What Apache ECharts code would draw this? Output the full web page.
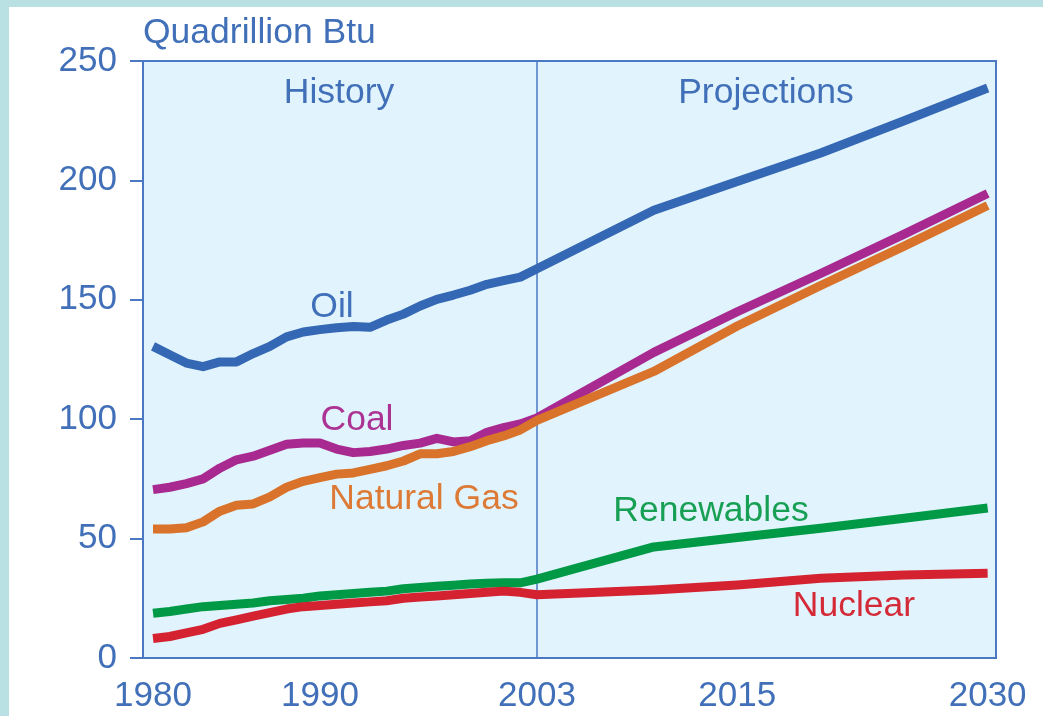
<!DOCTYPE html>
<html>
<head>
<meta charset="utf-8">
<script src="https://cdn.jsdelivr.net/npm/echarts@6/dist/echarts.min.js"></script>
<style>
  html, body { margin: 0; padding: 0; background: #ffffff; }
  #chart { width: 1043px; height: 716px; }
</style>
</head>
<body>
<div id="chart"></div>
<script>
// ---- Data ----
var years = [1980, 1981, 1982, 1983, 1984, 1985, 1986, 1987, 1988, 1989, 1990, 1991,
             1992, 1993, 1994, 1995, 1996, 1997, 1998, 1999, 2000, 2001, 2002, 2003,
             2010, 2015, 2020, 2025, 2030];
var oil = [130.5, 127, 123.5, 122, 124, 124, 127.5, 130.5, 134.5, 136.5, 137.5, 138.3,
           138.8, 138.5, 141.5, 144, 147.4, 150.2, 152, 154, 156.5, 158, 159.5, 163,
           187.5, 199.5, 211.5, 225, 238.7];
var coal = [70.5, 71.5, 73, 75, 79.5, 83, 84.5, 87, 89.5, 90, 90, 87.5,
            86, 86.5, 87.5, 89, 90, 92, 90.5, 91, 94.5, 96.5, 98, 100.5,
            128, 145, 161, 177.5, 194.5];
var gas = [54, 54, 54.5, 57, 61.5, 64, 64.5, 67.5, 71.5, 74, 75.5, 77,
           77.5, 79, 80.5, 82.5, 85.5, 85.5, 86.5, 88.5, 91, 93, 95.5, 99.5,
           120, 139, 156, 172.5, 189.5];
var renewables = [18.7, 19.5, 20.5, 21.5, 22, 22.5, 23, 24, 24.5, 25, 26, 26.5,
                  27, 27.5, 28, 29, 29.5, 30, 30.5, 31, 31.3, 31.5, 31.5, 33,
                  46.5, 50.5, 54.3, 58.5, 62.8];
var nuclear = [8.2, 9, 10.5, 12, 14.5, 16, 17.5, 19, 20.5, 21.5, 22, 22.5,
               23, 23.5, 24, 25, 25.5, 26, 26.5, 27, 27.5, 28, 27.5, 26.5,
               28.5, 30.6, 33.4, 34.8, 35.5];
var xTickLabels = [1980, 1990, 2003, 2015, 2030];
var yTicks = [0, 50, 100, 150, 200, 250];
var dividerYear = 2003;

function pairs(vals) {
  return years.map(function (y, i) { return [y, vals[i]]; });
}

var FONT = "'Liberation Sans', Arial, sans-serif";
var AXIS_BLUE = '#4a78c2';
var TEXT_BLUE = '#4170b8';

var chart = echarts.init(document.getElementById('chart'), null, { renderer: 'canvas' });

function lineSeries(name, vals, color, z) {
  return {
    name: name,
    type: 'line',
    data: pairs(vals),
    showSymbol: false,
    symbol: 'none',
    smooth: false,
    z: z,
    lineStyle: { color: color, width: 9, cap: 'butt', join: 'round' },
    emphasis: { disabled: true },
    silent: true
  };
}

function txt(text, x, y, color, align, size) {
  return {
    type: 'text',
    x: x, y: y,
    z: 100,
    silent: true,
    style: {
      text: text,
      fill: color,
      font: (size || 35.5) + 'px ' + FONT,
      align: align || 'center',
      verticalAlign: 'middle'
    }
  };
}

var option = {
  backgroundColor: '#ffffff',
  animation: false,
  grid: {
    left: 143, top: 61, right: 47, bottom: 58,
    show: true,
    backgroundColor: '#e1f3fd',
    borderColor: AXIS_BLUE,
    borderWidth: 2,
    containLabel: false,
    outerBoundsMode: 'none'
  },
  xAxis: {
    type: 'value',
    min: 1979.4,
    max: 2030.5,
    axisLine: { show: true, lineStyle: { color: AXIS_BLUE, width: 2 } },
    axisTick: { show: false },
    splitLine: { show: false },
    axisLabel: {
      customValues: xTickLabels,
      color: TEXT_BLUE,
      fontFamily: FONT,
      fontSize: 35,
      margin: 21,
      formatter: function (v) { return String(v); }
    }
  },
  yAxis: {
    type: 'value',
    min: 0,
    max: 250,
    interval: 50,
    axisLine: { show: true, lineStyle: { color: AXIS_BLUE, width: 2 } },
    axisTick: { show: true, inside: false, length: 13, lineStyle: { color: AXIS_BLUE, width: 2 } },
    splitLine: { show: false },
    axisLabel: {
      color: TEXT_BLUE,
      fontFamily: FONT,
      fontSize: 35,
      margin: 26
    }
  },
  series: [
    Object.assign(lineSeries('Renewables', renewables, '#009a46', 2), {
      markLine: {
        silent: true,
        symbol: ['none', 'none'],
        label: { show: false },
        lineStyle: { color: AXIS_BLUE, width: 1.5, type: 'solid' },
        data: [{ xAxis: dividerYear }],
        z: 1
      }
    }),
    lineSeries('Nuclear', nuclear, '#d42230', 3),
    lineSeries('Coal', coal, '#a8298f', 4),
    lineSeries('Natural Gas', gas, '#d9732b', 5),
    lineSeries('Oil', oil, '#3468b4', 6)
  ],
  graphic: [
    { type: 'rect', shape: { x: 0, y: 0, width: 1043, height: 7 }, style: { fill: '#b9e1e4' }, silent: true, z: 100 },
    { type: 'rect', shape: { x: 0, y: 0, width: 9, height: 716 }, style: { fill: '#b9e1e4' }, silent: true, z: 100 },
    txt('Quadrillion Btu', 143, 33, TEXT_BLUE, 'left', 35.5),
    txt('History', 339, 93, TEXT_BLUE),
    txt('Projections', 766, 93, TEXT_BLUE),
    txt('Oil', 332, 307, '#3f70b9'),
    txt('Coal', 357, 420, '#ac3394'),
    txt('Natural Gas', 424, 499, '#dc7a36'),
    txt('Renewables', 711, 511, '#17a053'),
    txt('Nuclear', 854, 606, '#d42a38')
  ]
};

chart.setOption(option);
</script>
</body>
</html>
